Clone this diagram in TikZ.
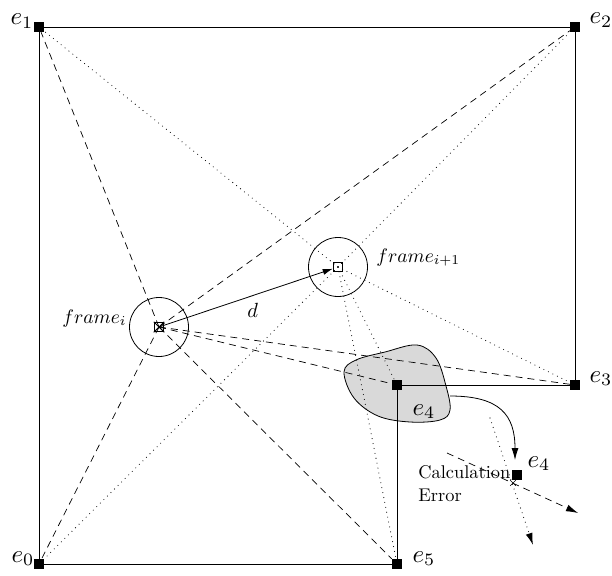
\documentclass[tikz,border=0pt]{standalone}
\usetikzlibrary{arrows.meta,shapes.misc}
\begin{document}
\begin{tikzpicture}[x=1pt,y=-1pt,
  vtx/.style={rectangle,fill=black,inner sep=0pt,minimum size=10pt},
  lbl/.style={anchor=base west,inner sep=0pt,scale=2.5},
  flbl/.style={anchor=base west,inner sep=0pt,scale=1.95},
  txt/.style={anchor=base west,inner sep=0pt,align=left,scale=1.84},
  edge/.style={line width=0.8pt},
  dsh/.style={line width=0.7pt,dash pattern=on 7pt off 5pt},
  dtt/.style={line width=1.1pt,line cap=round,dash pattern=on 0pt off 5pt},
  tip/.style={-{Latex[length=12pt,width=7pt]}},
  fbox/.style={rectangle,draw,line width=1.5pt,inner sep=0pt,minimum size=9pt},
  ring/.style={circle,draw,line width=0.8pt,inner sep=0pt,minimum size=59pt}]
\useasboundingbox (0,0) rectangle (612,575);
\fill[white] (0,0) rectangle (612,575);

% blob
\filldraw[fill=black!15,draw=black,line width=0.8pt]
  plot[smooth cycle,tension=0.6] coordinates {(344,372) (356,360) (385,352) (417,345) (436,358) (446,386) (450,410) (440,420) (410,422) (378,416) (354,398)};

% corner points
\node[vtx] (e1) at (39,27) {};
\node[vtx] (e2) at (575,27) {};
\node[vtx] (e3) at (575,385) {};
\node[vtx] (e4) at (397,385) {};
\node[vtx] (e5) at (397,564) {};
\node[vtx] (e0) at (39,564) {};
\node[vtx] (e4n) at (517,475) {};

% frames
\node[ring] (ci) at (159,327) {};
\node[ring] (cj) at (338,267) {};
\node[fbox] (fi) at (159,327) {};
\node[fbox] (fj) at (338,267) {};
\draw[line width=1pt] (fi.north west) -- (fi.south east) (fi.north east) -- (fi.south west);

% boundary
\draw[edge] (e1) -- (e2) (e2) -- (e3) (e3) -- (e4) (e4) -- (e5) (e5) -- (e0) (e0) -- (e1);

% dashed from frame i
\foreach \t in {e1,e2,e0,e5,e3,e4} \draw[dsh] (fi.center) -- (\t);
% dotted from frame i+1
\foreach \t in {e1,e2,e0,e5,e3,e4} \draw[dtt] (fj.center) -- (\t);

% motion d
\draw[edge,-{Latex[length=10pt,width=6pt]}] (fi.center) -- (fj);

% displaced e4
\coordinate (cs) at (450,396);
\coordinate (ce) at (515,460);
\draw[edge,tip] (cs) .. controls (500,396) and (515,415) .. (ce);
\node[cross out,draw,line width=0.6pt,inner sep=0pt,minimum size=5pt] (xm) at (513,483) {};
\coordinate (ds) at (447,453);
\coordinate (dt) at (578,513);
\draw[dsh,tip] (ds) -- (dt);
\coordinate (ts) at (490,418);
\coordinate (tt) at (533,545);
\draw[dtt,tip] (ts) -- (tt);

% labels
\node[lbl] (l1) at (10,25) {$e_1$};
\node[lbl] (l2) at (589,24) {$e_2$};
\node[lbl] (l3) at (589,382) {$e_3$};
\node[lbl] (l0) at (11,562) {$e_0$};
\node[lbl] (l5) at (412,562) {$e_5$};
\node[lbl] (l4) at (412,415) {$e_4$};
\node[lbl] (l4n) at (527,467) {$e_4$};
\node[flbl] (lfi) at (62,323) {$frame_i$};
\node[flbl] (lfj) at (376,262) {$frame_{i+1}$};
\node[lbl,scale=0.82] (ld) at (247,317) {$d$};
\node[txt] (lce) at (418,501) {Calculation\\Error};
\end{tikzpicture}
\end{document}
